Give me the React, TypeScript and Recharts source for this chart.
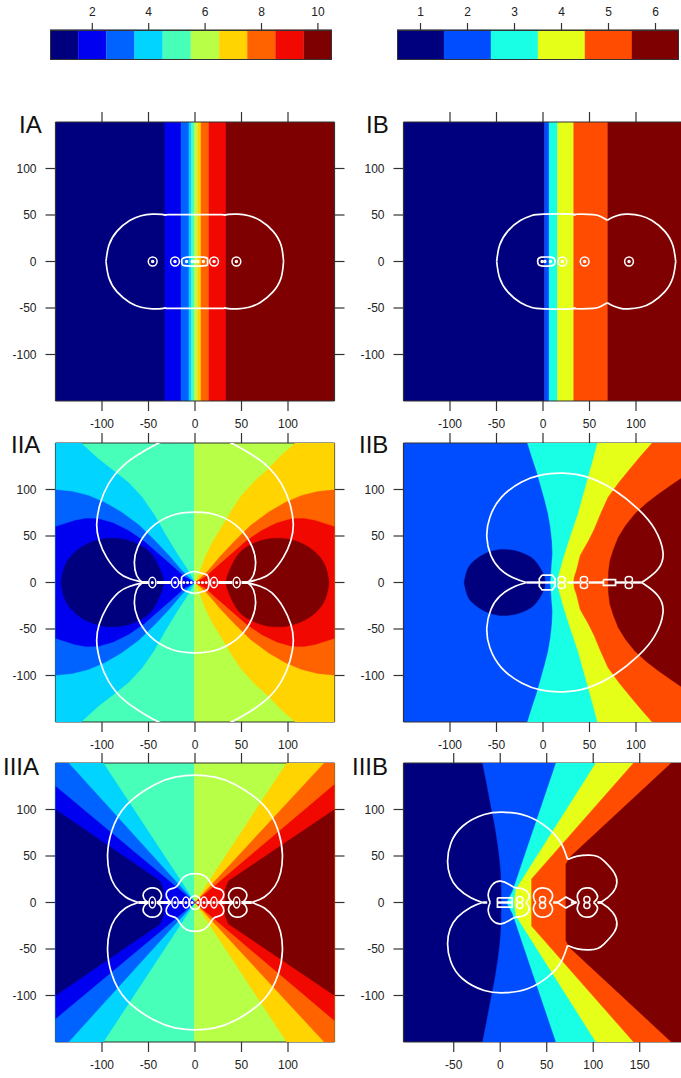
import React from "react";
import { Bar, BarChart, Cell, ReferenceArea, Scatter, ScatterChart, XAxis, YAxis } from "recharts";

type Pt = [number, number];

const FONT = "'Liberation Sans', Arial, sans-serif";
const INK = "#333";

// colour levels
const jet10 = ["#00007F", "#0000F1", "#0063FF", "#00D4FF", "#47FFB8", "#B8FF47", "#FFD400", "#FF6300", "#F10800", "#7F0000"];
const jet6 = ["#00007F", "#004CFF", "#19FFE5", "#E5FF19", "#FF4C00", "#7F0000"];
const levels10 = [1, 2, 3, 4, 5, 6, 7, 8, 9, 10];
const levels6 = [1, 2, 3, 4, 5, 6];
const barTicks10 = [2, 4, 6, 8, 10];
const barTicks6 = [1, 2, 3, 4, 5, 6];

const ticksCentered = [-100, -50, 0, 50, 100];
const ticksShifted = [-50, 0, 50, 100, 150];

// row I: vertical bands
const iaEdges = [-150, -32.3, -15, -6.5, -3.8, -0.5, 2.5, 6.5, 15, 33.3, 150];
const ibEdges = [-150, 1.8, 6.5, 15.5, 33, 69.6, 150];

const iaOutline: Pt[] = [[-95.7, 0], [-92.6, 17.4], [-83.8, 32.7], [-70.2, 44], [-58, 49.2], [-46, 50.9], [-36, 50.6], [-32, 49.8], [-28, 50.4], [0, 50.4], [28, 50.4], [32, 49.8], [36, 50.6], [46, 50.9], [58, 49.2], [70.2, 44], [83.8, 32.7], [92.6, 17.4], [95.2, 0]];
const iaPill: Pt[] = [[-9, 4.7], [9, 4.7], [13.5, 2.5], [13.5, -2.5], [9, -4.7], [-9, -4.7], [-14, -2.5], [-14, 2.5], [-9, 4.7]];
const iaRings: Pt[] = [[-45.5, 0], [-21.5, 0], [20.5, 0], [44.5, 0]];
const iaDots: Pt[] = [[-45.5, 0], [-21.5, 0], [-9, 0], [-3, 0], [0, 0], [3, 0], [9, 0], [20.5, 0], [44.5, 0]];

const ibLeftLobe: Pt[] = [[-49.8, 0], [-46.7, 17.4], [-37.9, 32.7], [-24.4, 44], [-12, 49.5], [1, 50.9], [31, 50.9], [33.5, 50], [36, 50.8], [54, 50.5], [62, 48.5], [69.2, 44.4]];
const ibRightLobe: Pt[] = [[69.2, 44.4], [75, 47.5], [83.5, 50.4], [91.8, 50.9], [105, 49.2], [117.2, 44], [130.8, 32.7], [139.6, 17.4], [142.7, 0]];
const ibPill: Pt[] = [[-2, 4.7], [8, 4.7], [12.5, 2.5], [12.5, -2.5], [8, -4.7], [-2, -4.7], [-5.4, -2.5], [-5.4, 2.5], [-2, 4.7]];
const ibRings: Pt[] = [[20.8, 0], [44.8, 0], [92.5, 0]];
const ibDots: Pt[] = [[-1, 0], [2, 0], [8, 0], [20.8, 0], [44.8, 0], [92.5, 0]];

// row II A
const iiaEdges = [-150, -0.7, 150];
const iiaCyan: Pt[] = [[0, 0], [-3, 5], [-10, 17], [-18, 29], [-32, 52], [-44, 73], [-57, 92], [-71, 107], [-86, 119], [-104, 133], [-122.6, 150]];
const iiaAzure: Pt[] = [[0, 0], [-5, 4], [-14.3, 12.9], [-27, 28], [-43, 45], [-60, 61.5], [-78.9, 75.6], [-97, 86], [-114.7, 93.5], [-132, 97.8], [-150, 99.6]];
const iiaBlue: Pt[] = [[0, 0], [-10.8, 5.7], [-24, 17.5], [-39.4, 30.8], [-55, 44.5], [-71.7, 56], [-88, 64], [-104, 68.5], [-117, 68.8], [-129, 66.7], [-150, 60]];
const iiaNavy: Pt[] = [[-144.3, 0], [-140, 18], [-130, 32], [-115, 42], [-100, 46.7], [-89, 47.7], [-75, 46.2], [-60, 40.7], [-47, 31], [-38, 15], [-33.5, 0]];
const iiaGold: Pt[] = [[0, 0], [3, 5.7], [10.8, 27], [19, 44], [28.7, 59.5], [39, 77], [50, 93.5], [64, 109], [78.9, 122], [92, 136], [108, 150]];
const iiaOuterLobe: Pt[] = [[-56.6, 0.4], [-70, 4], [-82.4, 11], [-95, 27], [-103, 45], [-105.7, 63], [-102, 84.6], [-93, 106], [-77, 125.8], [-57, 140], [-39.4, 149.8], [-22, 157]];
const iiaInnerLobe: Pt[] = [[-56.6, 0], [-62.7, 7.5], [-65.2, 21.9], [-61.6, 38], [-48.4, 57.7], [-25, 72], [0, 75.6], [25, 72], [48.4, 57.7], [61.6, 38], [65.2, 21.9], [62.7, 7.5], [56.6, 0]];
const iiaCore: Pt[] = [[-14.3, 6], [-9, 9.5], [0, 11.8], [9, 9.5], [14.3, 6], [14.3, -6], [9, -9.5], [0, -11.8], [-9, -9.5], [-14.3, -6], [-14.3, 6]];
const iiaRings: Pt[] = [[-45.9, 0], [-21.5, 0], [20.4, 0], [44.8, 0]];
const iiaDots: Pt[] = [[-45.9, 0], [-21.5, 0], [-12, 0], [-8, 0], [-4, 0], [0, 0], [4, 0], [8, 0], [12, 0], [20.4, 0], [44.8, 0]];
const iiaDashes: Pt[] = [[-57, -50], [-41, -26], [-17, -15], [15, 16], [25, 40], [50, 57]];

// row II B
const iibEdges = [-150, 150];
const iibCyan: Pt[] = [[8, 0], [9, 15], [10.2, 30.8], [9.6, 45], [8, 59.5], [5.5, 74], [2, 88], [-2.5, 104], [-7, 120], [-12, 135], [-16.7, 150]];
const iibYellow: Pt[] = [[15.6, 0], [17.5, 10], [22, 26], [28, 45], [33, 60], [37.8, 74], [43, 93], [48.6, 113], [53.5, 131], [58.6, 150]];
const iibOrange: Pt[] = [[33, 0], [33.6, 6], [36, 12.9], [40, 29], [44.5, 37], [49, 45], [55, 57], [62, 74], [70, 91.8], [82, 108], [95, 124], [106, 137], [117.4, 150]];
const iibMaroon: Pt[] = [[70, 0], [70.5, 12], [72, 23.6], [76, 36], [81, 48.7], [89, 61.5], [99, 74], [111, 85], [124, 95], [137, 104], [150, 113]];
const iibNavy: Pt[] = [[-84.8, 0], [-81, 14.5], [-73, 24.3], [-60, 32], [-48, 35.2], [-41.4, 35.5], [-30, 34.2], [-18, 29.9], [-8, 22.7], [1, 7.6], [2, 0]];
const iibLobe: Pt[] = [[-17.7, 0], [-32, 5], [-46.4, 14.7], [-56, 29], [-60.4, 48.7], [-57.2, 70], [-44.6, 91.8], [-23, 108], [-1.6, 115.8], [21.7, 117.6], [48.6, 113], [77.2, 99], [102.3, 79], [120, 57.7], [129, 32.6], [124, 14.7], [112, 4], [106, 0]];
const iibPill: Pt[] = [[-1, 8], [10, 8], [13, 4], [13, -4], [10, -8], [-1, -8], [-4, -4], [-4, 4], [-1, 8]];
const iibBox: Pt[] = [[65, 3], [78, 3], [78, -3], [65, -3], [65, 3]];
const iibEights: Pt[] = [[20, 3.2], [20, -3.2], [44, 3.2], [44, -3.2], [92.3, 3.2], [92.3, -3.2]];
const iibDashes: Pt[] = [[-17.7, -4], [-4, 13], [26, 40], [49, 65], [78, 89], [96, 106]];

// row III A
const iiiaEdges = [-150, -0.7, 150];
const iiiaCyan: Pt[] = [[0, 0], [-98.6, 150]];
const iiiaAzure: Pt[] = [[0, 0], [-136, 150]];
const iiiaBlue: Pt[] = [[0, 0], [-150, 125]];
const iiiaNavy: Pt[] = [[-34, 0], [-34, 14], [-37.6, 23], [-150, 100]];
const iiiaGold: Pt[] = [[0, 0], [98.6, 150]];
const iiiaOrange: Pt[] = [[0, 0], [139, 150]];
const iiiaRed: Pt[] = [[0, 0], [150, 127]];
const iiiaMaroon: Pt[] = [[32.3, 0], [32.3, 14], [36, 23], [150, 100]];
const iiiaOuterLobe: Pt[] = [[-61, 0], [-74.6, 6], [-86, 17.6], [-92, 32], [-94, 51.6], [-89.6, 76.7], [-73.5, 105], [-43, 127], [-21.5, 134.8], [0, 137], [21.5, 134.8], [43, 127], [73.5, 105], [89.6, 76.7], [94, 51.6], [92, 32], [86, 17.6], [74.6, 6], [61, 0]];
const iiiaMidLobe: Pt[] = [[-26, 0], [-29.5, 4], [-31, 9], [-28.5, 13.5], [-23, 15.5], [-19, 18], [-15, 24], [-9, 29.4], [0, 31], [9, 29.4], [15, 24], [19, 18], [23, 15.5], [28.5, 13.5], [31, 9], [29.5, 4], [26, 0]];
const iiiaLeftLoop: Pt[] = [[-50.5, 0], [-54, 3], [-55.8, 7.5], [-54.5, 11.5], [-50.5, 14.8], [-46, 15.8], [-41, 14.8], [-37.5, 11.5], [-36, 7.5], [-37.5, 3], [-41, 0]];
const iiiaRightLoop: Pt[] = [[41, 0], [37.5, 3], [36, 7.5], [37.5, 11.5], [41, 14.8], [46, 15.8], [50.5, 14.8], [54.5, 11.5], [55.8, 7.5], [54, 3], [50.5, 0]];
const iiiaRings: Pt[] = [[-45.9, 0], [-21.5, 0], [20.4, 0], [44.8, 0], [-9.7, 0], [9.7, 0]];
const iiiaDots: Pt[] = [[-45.9, 0], [-21.5, 0], [-9.7, 0], [-3, 0], [3, 0], [9.7, 0], [20.4, 0], [44.8, 0]];
const iiiaCore: Pt[] = [[0, 7.5], [4.5, 5], [6, 0], [4.5, -5], [0, -7.5], [-4.5, -5], [-6, 0], [-4.5, 5], [0, 7.5]];
const iiiaDashes: Pt[] = [[-61, -50], [-41, -26], [-17, -13], [13, 16], [25, 41], [50, 61]];

// row III B
const iiibEdges = [-104, 196];
const iiibAzure: Pt[] = [[1.4, 0], [1.2, 16], [0.7, 32], [-0.8, 48], [-2.9, 64], [-6, 84], [-10, 103.6], [-14, 125], [-19, 150]];
const iiibCyan: Pt[] = [[7, 0], [13.3, 12.2], [60, 150]];
const iiibYellow: Pt[] = [[15, 0], [16.8, 14], [102.9, 150]];
const iiibOrange: Pt[] = [[33.7, 0], [33.7, 25.4], [143.4, 150]];
const iiibMaroon: Pt[] = [[70.6, 0], [70.6, 40.9], [74.2, 48], [184, 150]];
const iiibLeftLobe: Pt[] = [[-19, 0], [-31.5, 5], [-45.9, 15.8], [-53.8, 28.3], [-56.6, 44.4], [-53, 64], [-40.5, 82], [-17.2, 94.6], [6, 97], [29.4, 92.8], [50.9, 80.3], [65.2, 64.2], [72.4, 46.2]];
const iiibRightLobe: Pt[] = [[72.4, 46.2], [83, 49.8], [95.7, 50.9], [104.7, 49.5], [111.8, 44.4], [122.6, 31.9], [125.4, 21], [120.8, 10.4], [110, 1.4], [104.7, 0]];
const iiibInnerLoop: Pt[] = [[-10.8, 0], [-12.9, 8.6], [-8.2, 19.4], [0.7, 23], [9.7, 19.4], [16.8, 15.8], [25.8, 14], [31.2, 6.8], [27.6, 0]];
const iiibMidLoop: Pt[] = [[38.4, 0], [36.5, 3], [35.8, 8], [38, 12.5], [41.5, 15], [45.5, 15.8], [50, 15], [54, 12.5], [56.3, 7.5], [55, 3], [52.7, 0]];
const iiibFarLoop: Pt[] = [[85, 0], [83.5, 3], [83, 8], [85.5, 12.5], [89, 15], [94, 15.8], [99, 14.5], [103, 10.5], [104.7, 6], [103, 2.5], [100.4, 0]];
const iiibDiamond: Pt[] = [[61.6, 0], [70.6, 6], [81.4, 0], [70.6, -6], [61.6, 0]];
const iiibBox: Pt[] = [[-3, 5], [13, 5], [13, -5], [-3, -5], [-3, 5]];
const iiibEights: Pt[] = [[21, 3.2], [21, -3.2], [45.5, 3.2], [45.5, -3.2], [93.2, 3.2], [93.2, -3.2]];
const iiibDashes: Pt[] = [[-19, -14], [-3, 13], [57, 62], [76, 82], [104.7, 110]];

const flipY = (pts: Pt[]): Pt[] => pts.map(([x, y]) => [x, -y] as Pt).reverse();
const flipX = (pts: Pt[]): Pt[] => pts.map(([x, y]) => [-x, y] as Pt);
const both = (pts: Pt[]): Pt[] => [...pts, ...flipY(pts).slice(1)];
const region = (upper: Pt[], corners: Pt[] = []): Pt[] => [...upper, ...corners, ...flipY(upper)];
const rows = (pts: Pt[]) => pts.map(([x, y]) => ({ x, y }));

const LEFT_CORNERS: Pt[] = [[-150, 150], [-150, -150]];
const RIGHT_CORNERS: Pt[] = [[150, 150], [150, -150]];
const FAR_CORNERS: Pt[] = [[196, 150], [196, -150]];

type Fill = { pts: Pt[]; color: string; smooth?: boolean };
type Curve = { pts: Pt[]; smooth?: boolean; width?: number };
type Marks = { pts: Pt[]; rx: number; ry: number };
type PanelProps = {
  name: string;
  nameLeft: number;
  nameTop: number;
  left: number;
  top: number;
  domain: [number, number];
  xTicks: number[];
  edges: number[];
  bandColors: string[];
  fills?: Fill[];
  curves: Curve[];
  marks: Marks[];
  dashes?: Pt[];
  dashWidth?: number;
};

const NoMark = () => <g />;
const ringShape = (rx: number, ry: number) => (p: any) => (
  <ellipse cx={p.cx} cy={p.cy} rx={rx} ry={ry} fill="none" stroke="#fff" strokeWidth={1.5} />
);
// top and right axes keep their tick marks but show no numbers
const noLabel = () => "";

const LEFT_W = 55.5;
const RIGHT_W = 14;
const TOP_H = 12;
const BOTTOM_H = 40;
const PLOT = 279;

const axisStyle = { stroke: INK, strokeWidth: 1.2 };
const tickStyle = { fontSize: 12, fill: "#222", fontFamily: FONT };

function Panel(props: PanelProps) {
  const { name, nameLeft, nameTop, left, top, domain, xTicks, edges, bandColors, fills = [], curves, marks, dashes = [], dashWidth = 2.4 } = props;
  return (
    <>
      <div style={{ position: "absolute", left: nameLeft, top: nameTop, font: `24px/24px ${FONT}`, color: "#111", zIndex: 2 }}>{name}</div>
      <div style={{ position: "absolute", left: left - LEFT_W, top: top - TOP_H }}>
        <ScatterChart width={LEFT_W + PLOT + RIGHT_W} height={TOP_H + PLOT + BOTTOM_H} margin={{ top: 0, right: 0, bottom: 0, left: 0 }}>
          {bandColors.map((color, i) => (
            <ReferenceArea key={"band" + i} xAxisId="b" yAxisId="l" x1={edges[i]} x2={edges[i + 1]} y1={-150} y2={150} fill={color} fillOpacity={1} stroke={color} strokeWidth={0.4} ifOverflow="hidden" />
          ))}
          {fills.map((f, i) => (
            <Scatter key={"fill" + i} xAxisId="b" yAxisId="l" data={rows(f.pts)} fill={f.color} shape={NoMark} line={{ fill: f.color, stroke: f.color, strokeWidth: 0.4 }} lineJointType={f.smooth ? "natural" : "linear"} isAnimationActive={false} />
          ))}
          {dashes.map((d, i) => (
            <Scatter key={"dash" + i} xAxisId="b" yAxisId="l" data={[{ x: d[0], y: 0 }, { x: d[1], y: 0 }]} shape={NoMark} line={{ stroke: "#fff", strokeWidth: dashWidth, fill: "none" }} isAnimationActive={false} />
          ))}
          {curves.map((c, i) => (
            <Scatter key={"curve" + i} xAxisId="b" yAxisId="l" data={rows(c.pts)} shape={NoMark} line={{ stroke: "#fff", strokeWidth: c.width ?? 1.7, fill: "none" }} lineJointType={c.smooth === false ? "linear" : "natural"} isAnimationActive={false} />
          ))}
          {marks.map((m, i) => (
            <Scatter key={"mark" + i} xAxisId="b" yAxisId="l" data={rows(m.pts)} shape={ringShape(m.rx, m.ry)} isAnimationActive={false} />
          ))}
          <XAxis xAxisId="b" dataKey="x" type="number" orientation="bottom" height={BOTTOM_H} domain={domain} allowDataOverflow ticks={xTicks} interval={0} tickSize={10} tickMargin={8} axisLine={axisStyle} tickLine={axisStyle} tick={tickStyle} />
          <XAxis xAxisId="t" dataKey="x" type="number" orientation="top" height={TOP_H} domain={domain} allowDataOverflow ticks={xTicks} interval={0} tickSize={10} axisLine={axisStyle} tickLine={axisStyle} tick={tickStyle} tickFormatter={noLabel} />
          <YAxis yAxisId="l" dataKey="y" type="number" orientation="left" width={LEFT_W} domain={[-150, 150]} allowDataOverflow ticks={ticksCentered} interval={0} tickSize={10} tickMargin={9} axisLine={axisStyle} tickLine={axisStyle} tick={tickStyle} />
          <YAxis yAxisId="r" dataKey="y" type="number" orientation="right" width={RIGHT_W} domain={[-150, 150]} allowDataOverflow ticks={ticksCentered} interval={0} tickSize={10} axisLine={axisStyle} tickLine={axisStyle} tick={tickStyle} tickFormatter={noLabel} />
        </ScatterChart>
      </div>
    </>
  );
}

function ColorBar({ left, levels, colors, ticks }: { left: number; levels: number[]; colors: string[]; ticks: number[] }) {
  const data = levels.map((level) => ({ level, span: 1 }));
  return (
    <div style={{ position: "absolute", left, top: 0 }}>
      <BarChart width={282} height={60} data={data} barCategoryGap={0} margin={{ top: 0, right: 0, bottom: 0, left: 0 }}>
        <XAxis dataKey="level" type="category" orientation="top" height={30} ticks={ticks} interval={0} tickSize={7} tickMargin={7} axisLine={axisStyle} tickLine={axisStyle} tick={tickStyle} />
        <YAxis hide domain={[0, 1]} />
        <Bar dataKey="span" isAnimationActive={false}>
          {colors.map((c) => (
            <Cell key={c} fill={c} stroke={c} strokeWidth={0.4} />
          ))}
        </Bar>
      </BarChart>
      <div style={{ position: "absolute", left: 0, top: 30, width: 282, height: 30, boxSizing: "border-box", border: `1px solid ${INK}` }} />
    </div>
  );
}

export default function App() {
  return (
    <div style={{ position: "absolute", left: 0, top: 0, width: 681, height: 1078, overflow: "hidden", background: "#fff", fontFamily: FONT }}>
      <ColorBar left={50.3} levels={levels10} colors={jet10} ticks={barTicks10} />
      <ColorBar left={397.3} levels={levels6} colors={jet6} ticks={barTicks6} />

      <Panel
        name="IA" nameLeft={19} nameTop={113} left={55.5} top={122} domain={[-150, 150]} xTicks={ticksCentered}
        edges={iaEdges} bandColors={jet10}
        curves={[{ pts: iaOutline }, { pts: flipY(iaOutline) }, { pts: iaPill }]}
        marks={[{ pts: iaRings, rx: 4.4, ry: 4.4 }, { pts: iaDots, rx: 1, ry: 1 }]}
      />
      <Panel
        name="IB" nameLeft={366} nameTop={113} left={403.5} top={122} domain={[-150, 150]} xTicks={ticksCentered}
        edges={ibEdges} bandColors={jet6}
        curves={[{ pts: ibLeftLobe }, { pts: flipY(ibLeftLobe) }, { pts: ibRightLobe }, { pts: flipY(ibRightLobe) }, { pts: ibPill }]}
        marks={[{ pts: ibRings, rx: 4.4, ry: 4.4 }, { pts: ibDots, rx: 1, ry: 1 }]}
      />

      <Panel
        name="IIA" nameLeft={11} nameTop={433} left={55.5} top={443} domain={[-150, 150]} xTicks={ticksCentered}
        edges={iiaEdges} bandColors={[jet10[4], jet10[5]]}
        fills={[
          { pts: region(iiaCyan, LEFT_CORNERS), color: jet10[3] },
          { pts: region(iiaAzure), color: jet10[2] },
          { pts: region(iiaBlue), color: jet10[1] },
          { pts: both(iiaNavy), color: jet10[0], smooth: true },
          { pts: region(iiaGold, RIGHT_CORNERS), color: jet10[6] },
          { pts: region(flipX(iiaAzure)), color: jet10[7] },
          { pts: region(flipX(iiaBlue)), color: jet10[8] },
          { pts: both(flipX(iiaNavy)), color: jet10[9], smooth: true },
        ]}
        curves={[
          { pts: iiaOuterLobe }, { pts: flipY(iiaOuterLobe) }, { pts: flipX(iiaOuterLobe) }, { pts: flipY(flipX(iiaOuterLobe)) },
          { pts: iiaInnerLobe }, { pts: flipY(iiaInnerLobe) }, { pts: iiaCore },
        ]}
        marks={[{ pts: iiaRings, rx: 3.6, ry: 5.2 }, { pts: iiaDots, rx: 0.8, ry: 0.8 }]}
        dashes={iiaDashes}
        dashWidth={2.8}
      />
      <Panel
        name="IIB" nameLeft={359} nameTop={433} left={403.5} top={443} domain={[-150, 150]} xTicks={ticksCentered}
        edges={iibEdges} bandColors={[jet6[1]]}
        fills={[
          { pts: both(iibNavy), color: jet6[0], smooth: true },
          { pts: region(iibCyan, RIGHT_CORNERS), color: jet6[2] },
          { pts: region(iibYellow, RIGHT_CORNERS), color: jet6[3] },
          { pts: region(iibOrange, RIGHT_CORNERS), color: jet6[4] },
          { pts: region(iibMaroon), color: jet6[5] },
        ]}
        curves={[{ pts: iibLobe }, { pts: flipY(iibLobe) }, { pts: iibPill, smooth: false }, { pts: iibBox, smooth: false }]}
        marks={[{ pts: iibEights, rx: 3.6, ry: 3 }]}
        dashes={iibDashes}
      />

      <Panel
        name="IIIA" nameLeft={3} nameTop={755} left={55.5} top={763} domain={[-150, 150]} xTicks={ticksCentered}
        edges={iiiaEdges} bandColors={[jet10[4], jet10[5]]}
        fills={[
          { pts: region(iiiaCyan, LEFT_CORNERS), color: jet10[3] },
          { pts: region(iiiaAzure, LEFT_CORNERS), color: jet10[2] },
          { pts: region(iiiaBlue), color: jet10[1] },
          { pts: region(iiiaNavy), color: jet10[0] },
          { pts: region(iiiaGold, RIGHT_CORNERS), color: jet10[6] },
          { pts: region(iiiaOrange, RIGHT_CORNERS), color: jet10[7] },
          { pts: region(iiiaRed), color: jet10[8] },
          { pts: region(iiiaMaroon), color: jet10[9] },
        ]}
        curves={[
          { pts: iiiaOuterLobe }, { pts: flipY(iiiaOuterLobe) }, { pts: iiiaMidLobe }, { pts: flipY(iiiaMidLobe) },
          { pts: iiiaLeftLoop }, { pts: flipY(iiiaLeftLoop) }, { pts: iiiaRightLoop }, { pts: flipY(iiiaRightLoop) }, { pts: iiiaCore },
        ]}
        marks={[{ pts: iiiaRings, rx: 3.2, ry: 5.4 }, { pts: iiiaDots, rx: 0.8, ry: 0.8 }]}
        dashes={iiiaDashes}
        dashWidth={3}
      />
      <Panel
        name="IIIB" nameLeft={352} nameTop={755} left={403.5} top={763} domain={[-104, 196]} xTicks={ticksShifted}
        edges={iiibEdges} bandColors={[jet6[0]]}
        fills={[
          { pts: region(iiibAzure, FAR_CORNERS), color: jet6[1] },
          { pts: region(iiibCyan, FAR_CORNERS), color: jet6[2] },
          { pts: region(iiibYellow, FAR_CORNERS), color: jet6[3] },
          { pts: region(iiibOrange, FAR_CORNERS), color: jet6[4] },
          { pts: region(iiibMaroon, FAR_CORNERS), color: jet6[5] },
        ]}
        curves={[
          { pts: iiibLeftLobe }, { pts: flipY(iiibLeftLobe) }, { pts: iiibRightLobe }, { pts: flipY(iiibRightLobe) },
          { pts: iiibInnerLoop }, { pts: flipY(iiibInnerLoop) }, { pts: iiibMidLoop }, { pts: flipY(iiibMidLoop) },
          { pts: iiibFarLoop }, { pts: flipY(iiibFarLoop) }, { pts: iiibDiamond, smooth: false }, { pts: iiibBox, smooth: false },
        ]}
        marks={[{ pts: iiibEights, rx: 3, ry: 3 }]}
        dashes={iiibDashes}
      />
    </div>
  );
}
